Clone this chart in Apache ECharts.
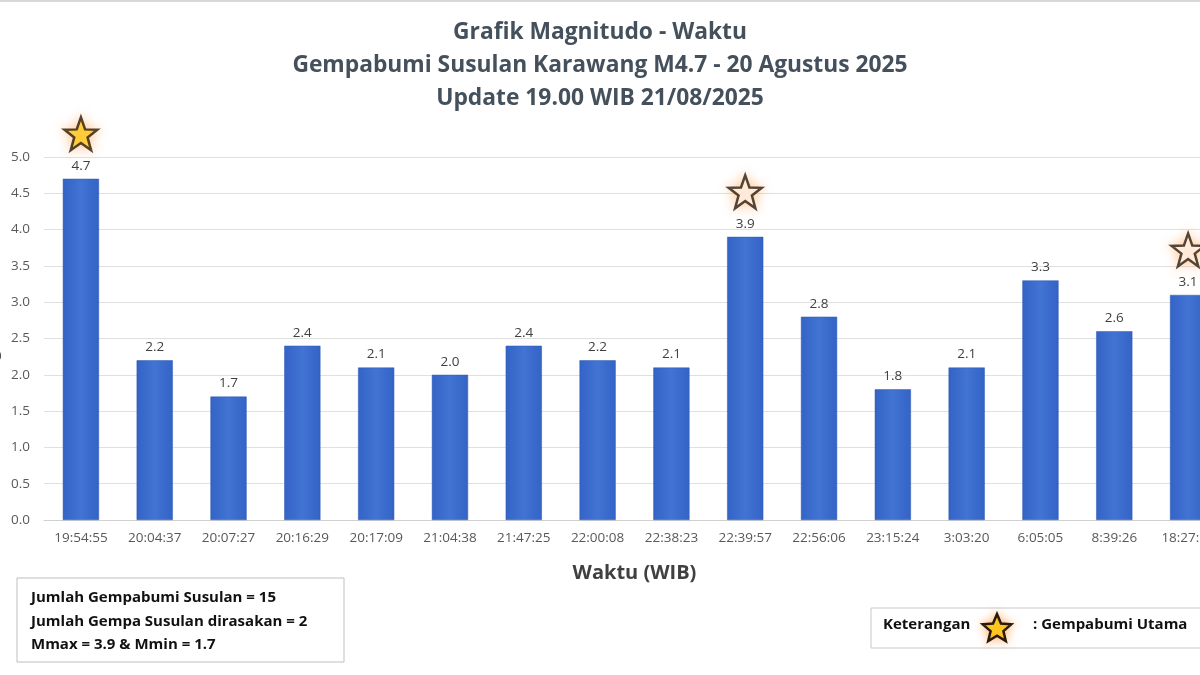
<!DOCTYPE html>
<html><head><meta charset="utf-8">
<script src="https://cdn.jsdelivr.net/npm/echarts@6/dist/echarts.min.js"></script>
<style>html,body{margin:0;padding:0;background:#fff}#c{width:1200px;height:675px}</style>
</head><body><div id="c"></div>
<script>
var categories = ['19:54:55','20:04:37','20:07:27','20:16:29','20:17:09','21:04:38','21:47:25','22:00:08','22:38:23','22:39:57','22:56:06','23:15:24','3:03:20','6:05:05','8:39:26','18:27:18'];
var magnitudes = [4.7,2.2,1.7,2.4,2.1,2.0,2.4,2.2,2.1,3.9,2.8,1.8,2.1,3.3,2.6,3.1];
// star markers: 'main' = gempabumi utama (filled), 'felt' = dirasakan (outline)
var starMarks = ['main',null,null,null,null,null,null,null,null,'felt',null,null,null,null,null,'felt'];
var titleLines = ['Grafik Magnitudo - Waktu','Gempabumi Susulan Karawang M4.7 - 20 Agustus 2025','Update 19.00 WIB 21/08/2025'];
var infoLines = ['Jumlah Gempabumi Susulan = 15','Jumlah Gempa Susulan dirasakan = 2','Mmax = 3.9 & Mmin = 1.7'];

var STAR = 'path://M50,2 L62,35 L97,36 L69,57 L79,92 L50,72 L21,92 L31,57 L3,36 L38,35 Z';
var font = '"Open Sans", "Noto Sans", sans-serif';

function starPoints(cx, cy, R){
  var pts = [], r = R*0.45;
  for (var k=0;k<10;k++){
    var a = -Math.PI/2 + k*Math.PI/5, rr = (k%2===0)?R:r;
    pts.push([cx+rr*Math.cos(a), cy+rr*Math.sin(a)]);
  }
  return pts;
}

var starData = magnitudes.map(function(v,i){
  if(!starMarks[i]) return null;
  var filled = starMarks[i]==='main';
  return {value:v, itemStyle:{color: filled?'#ffd21f':'#ffffff'}};
});

var chart = echarts.init(document.getElementById('c'));
chart.setOption({
  backgroundColor:'#ffffff',
  animation:false,
  title:{
    text: titleLines.join('\n'), left:'center', top:11,
    textStyle:{fontFamily:font, fontSize:22.8, fontWeight:700, color:'#44505c', lineHeight:33}
  },
  grid:{left:44, right:-25, top:157, bottom:155, containLabel:false, outerBoundsMode:'none'},
  xAxis:{
    type:'category', data:categories,
    name:'Waktu (WIB)', nameLocation:'middle', nameGap:43,
    nameTextStyle:{fontFamily:font, fontSize:20, fontWeight:700, color:'#404040'},
    axisLine:{lineStyle:{color:'#d0d0d0'}},
    axisTick:{show:false},
    axisLabel:{fontFamily:font, fontSize:13.5, color:'#595959', margin:11, interval:0}
  },
  yAxis:{
    type:'value', min:0, max:5, interval:0.5,
    name:'Magnitudo', nameLocation:'middle', nameGap:42,
    nameTextStyle:{fontFamily:font, fontSize:19, fontWeight:700, color:'#404040'},
    axisLabel:{fontFamily:font, fontSize:13.5, color:'#595959', margin:14,
      formatter:function(v){return v.toFixed(1);}},
    splitLine:{lineStyle:{color:'#e0e0e0'}},
    axisLine:{show:false}, axisTick:{show:false}
  },
  series:[
    {type:'bar', data:magnitudes, barWidth:'49%',
     itemStyle:{color:{type:'linear',x:0,y:0,x2:1,y2:0,colorStops:[
       {offset:0,color:'#3463c6'},{offset:0.5,color:'#4174d3'},{offset:1,color:'#3463c6'}]},
       borderColor:'#2c58b6', borderWidth:0.5},
     label:{show:true, position:'top', distance:6, fontFamily:font, fontSize:13.5, color:'#404040',
       formatter:function(p){return p.value.toFixed(1);}}
    },
    {type:'scatter', data:starData, symbol:STAR, symbolSize:33, symbolOffset:[0,-45],
     itemStyle:{borderColor:'#2a1a0a', borderWidth:2.5, shadowBlur:12, shadowColor:'rgba(255,140,40,0.55)'},
     z:5}
  ],
  graphic:[
    {type:'rect', shape:{x:0,y:0,width:1200,height:2}, style:{fill:'#d8d8d8'}},
    {type:'rect', shape:{x:17,y:578,width:327,height:84}, style:{fill:'#fff', stroke:'#bfbfbf', lineWidth:1}},
    {type:'text', x:31, y:586, style:{text:infoLines.join('\n'), font:'700 15px '+font, fill:'#111', lineHeight:23.5}},
    {type:'rect', shape:{x:871,y:608,width:340,height:40}, style:{fill:'#fff', stroke:'#c8c8c8', lineWidth:1}},
    {type:'text', x:883, y:617, style:{text:'Keterangan', font:'700 15px '+font, fill:'#111'}},
    {type:'polygon', shape:{points:starPoints(997,629,15)},
     style:{fill:'#ffd21f', stroke:'#2a1a0a', lineWidth:2.5, shadowBlur:10, shadowColor:'rgba(255,140,40,0.6)'}},
    {type:'text', x:1033, y:617, style:{text:': Gempabumi Utama', font:'700 15px '+font, fill:'#111'}}
  ]
});
</script></body></html>
